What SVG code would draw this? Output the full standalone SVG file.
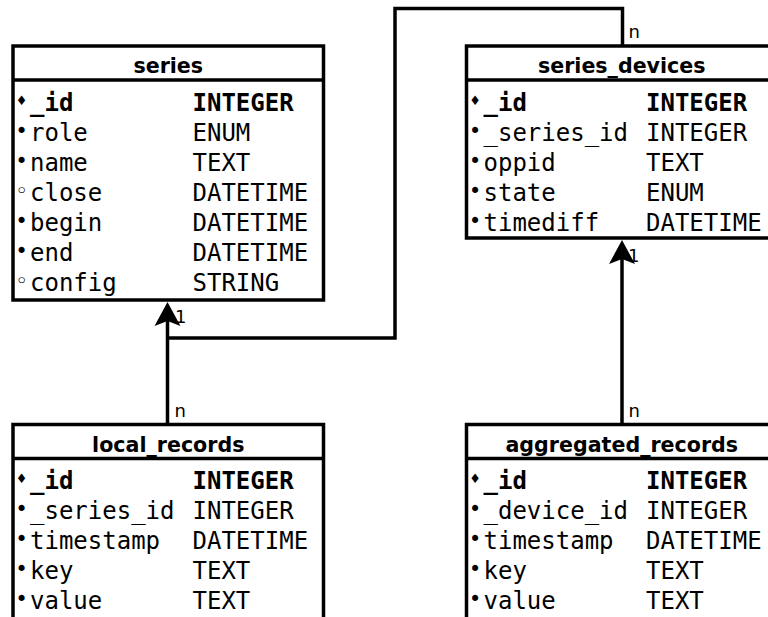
<svg xmlns="http://www.w3.org/2000/svg" width="768" height="617" viewBox="0 0 768 617">
  <style>
    .box { fill: #fff; stroke: #000; stroke-width: 3.5; }
    .sep { stroke: #000; stroke-width: 3.5; }
    .title { font-family: "DejaVu Sans", "Liberation Sans", sans-serif; font-weight: bold; font-size: 20.6px; text-anchor: middle; fill: #000; }
    .col { font-family: "DejaVu Sans Mono", "Liberation Mono", monospace; font-size: 24px; fill: #000; }
    .pk { font-weight: bold; }
    .mark { font-family: "DejaVu Sans Mono", "Liberation Mono", monospace; font-size: 21px; text-anchor: middle; fill: #000; }
    .dia { font-family: "DejaVu Sans", sans-serif; font-size: 13px; text-anchor: middle; fill: #000; }
    .edge { fill: none; stroke: #000; stroke-width: 3.5; }
    .lbl { font-family: "DejaVu Sans", "Liberation Sans", sans-serif; font-size: 18px; fill: #000; }
  </style>
  <defs>
    <marker id="arrow" markerUnits="userSpaceOnUse" viewBox="-6 -14 26 28" markerWidth="26" markerHeight="28" refX="0" refY="0" orient="auto">
      <path d="M19,0 L-5,-13 L0,0 L-5,13 Z" fill="#000"/>
    </marker>
  </defs>
  <rect width="768" height="617" fill="#fff"/>

  <!-- relationships -->
  <g id="connectors">
    <path class="edge" d="M167.5,424.5 V321" marker-end="url(#arrow)"/>
    <path class="edge" d="M622.5,46 V8.5 H395 V338 H167.5"/>
    <path class="edge" d="M622,424.5 V259" marker-end="url(#arrow)"/>
    <text class="lbl" x="175" y="323">1</text>
    <text class="lbl" x="174.5" y="416.5">n</text>
    <text class="lbl" x="628.5" y="37.5">n</text>
    <text class="lbl" x="628" y="262">1</text>
    <text class="lbl" x="628.5" y="416.5">n</text>
  </g>

  <!-- series -->
  <g id="series">
    <rect class="box" x="13" y="46" width="310.5" height="254"/>
    <line class="sep" x1="13" y1="80" x2="323.5" y2="80"/>
    <text class="title" x="168.25" y="73">series</text>
    <text class="dia" x="21.5" y="105">♦</text>
    <text class="col pk" x="30" y="111">_id</text><text class="col pk" x="192.5" y="111">INTEGER</text>
    <text class="mark" x="21.5" y="138">•</text>
    <text class="col" x="30" y="141">role</text><text class="col" x="192.5" y="141">ENUM</text>
    <text class="mark" x="21.5" y="168">•</text>
    <text class="col" x="30" y="171">name</text><text class="col" x="192.5" y="171">TEXT</text>
    <text class="mark" x="21.5" y="198">◦</text>
    <text class="col" x="30" y="201">close</text><text class="col" x="192.5" y="201">DATETIME</text>
    <text class="mark" x="21.5" y="228">•</text>
    <text class="col" x="30" y="231">begin</text><text class="col" x="192.5" y="231">DATETIME</text>
    <text class="mark" x="21.5" y="258">•</text>
    <text class="col" x="30" y="261">end</text><text class="col" x="192.5" y="261">DATETIME</text>
    <text class="mark" x="21.5" y="288">◦</text>
    <text class="col" x="30" y="291">config</text><text class="col" x="192.5" y="291">STRING</text>
  </g>

  <!-- series_devices -->
  <g id="series_devices">
    <rect class="box" x="466.5" y="46" width="310.5" height="192"/>
    <line class="sep" x1="466.5" y1="80" x2="777" y2="80"/>
    <text class="title" x="621.75" y="73">series_devices</text>
    <text class="dia" x="475" y="105">♦</text>
    <text class="col pk" x="483.5" y="111">_id</text><text class="col pk" x="646" y="111">INTEGER</text>
    <text class="mark" x="475" y="138">•</text>
    <text class="col" x="483.5" y="141">_series_id</text><text class="col" x="646" y="141">INTEGER</text>
    <text class="mark" x="475" y="168">•</text>
    <text class="col" x="483.5" y="171">oppid</text><text class="col" x="646" y="171">TEXT</text>
    <text class="mark" x="475" y="198">•</text>
    <text class="col" x="483.5" y="201">state</text><text class="col" x="646" y="201">ENUM</text>
    <text class="mark" x="475" y="228">•</text>
    <text class="col" x="483.5" y="231">timediff</text><text class="col" x="646" y="231">DATETIME</text>
  </g>

  <!-- local_records -->
  <g id="local_records">
    <rect class="box" x="13" y="424.5" width="310.5" height="220"/>
    <line class="sep" x1="13" y1="458.5" x2="323.5" y2="458.5"/>
    <text class="title" x="168.25" y="452">local_records</text>
    <text class="dia" x="21.5" y="482.5">♦</text>
    <text class="col pk" x="30" y="488.5">_id</text><text class="col pk" x="192.5" y="488.5">INTEGER</text>
    <text class="mark" x="21.5" y="515.5">•</text>
    <text class="col" x="30" y="518.5">_series_id</text><text class="col" x="192.5" y="518.5">INTEGER</text>
    <text class="mark" x="21.5" y="545.5">•</text>
    <text class="col" x="30" y="548.5">timestamp</text><text class="col" x="192.5" y="548.5">DATETIME</text>
    <text class="mark" x="21.5" y="575.5">•</text>
    <text class="col" x="30" y="578.5">key</text><text class="col" x="192.5" y="578.5">TEXT</text>
    <text class="mark" x="21.5" y="605.5">•</text>
    <text class="col" x="30" y="608.5">value</text><text class="col" x="192.5" y="608.5">TEXT</text>
  </g>

  <!-- aggregated_records -->
  <g id="aggregated_records">
    <rect class="box" x="466.5" y="424.5" width="310.5" height="220"/>
    <line class="sep" x1="466.5" y1="458.5" x2="777" y2="458.5"/>
    <text class="title" x="621.75" y="452">aggregated_records</text>
    <text class="dia" x="475" y="482.5">♦</text>
    <text class="col pk" x="483.5" y="488.5">_id</text><text class="col pk" x="646" y="488.5">INTEGER</text>
    <text class="mark" x="475" y="515.5">•</text>
    <text class="col" x="483.5" y="518.5">_device_id</text><text class="col" x="646" y="518.5">INTEGER</text>
    <text class="mark" x="475" y="545.5">•</text>
    <text class="col" x="483.5" y="548.5">timestamp</text><text class="col" x="646" y="548.5">DATETIME</text>
    <text class="mark" x="475" y="575.5">•</text>
    <text class="col" x="483.5" y="578.5">key</text><text class="col" x="646" y="578.5">TEXT</text>
    <text class="mark" x="475" y="605.5">•</text>
    <text class="col" x="483.5" y="608.5">value</text><text class="col" x="646" y="608.5">TEXT</text>
  </g>
</svg>
